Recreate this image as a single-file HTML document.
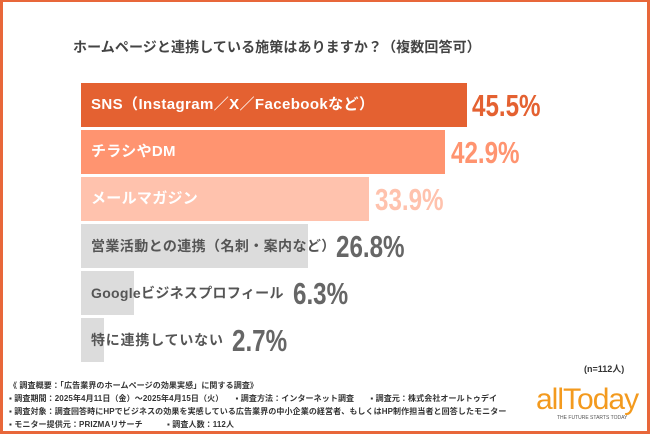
<!DOCTYPE html>
<html><head><meta charset="utf-8"><style>
*{margin:0;padding:0;box-sizing:border-box}
body{width:650px;height:434px;overflow:hidden;background:#fff;font-family:"Liberation Sans","Noto Sans CJK JP",sans-serif;}
.frame{position:absolute;left:0;top:0;width:650px;height:434px;border:3px solid #E8673A;border-top-width:2px}
.t{position:absolute;left:73px;top:37px;font-size:14px;font-weight:bold;color:#444;letter-spacing:0.1px;white-space:nowrap}
.bar{position:absolute;left:81px;height:44px}
.lb{position:absolute;left:91px;font-size:15px;font-weight:bold;white-space:nowrap;line-height:44px}
.jp{font-size:14px;letter-spacing:0.4px}
.v{position:absolute;font-size:31px;font-weight:bold;line-height:44px;transform:scaleX(0.78);transform-origin:left center;white-space:nowrap}
.f{position:absolute;left:9px;font-size:8px;color:#333;white-space:nowrap;font-weight:bold;letter-spacing:0.1px}
</style></head><body>
<div class="frame"></div>
<div class="t">ホームページと連携している施策はありますか？（複数回答可）</div>

<div class="bar" style="top:83px;width:386px;background:#E46131"></div>
<div class="lb" style="top:83px;color:#fff;letter-spacing:0.4px">SNS（Instagram／X／Facebookなど）</div>
<div class="v" style="top:84px;left:472px;color:#E46131">45.5%</div>

<div class="bar" style="top:130px;width:364px;background:#FF9470"></div>
<div class="lb" style="top:130px;color:#fff;letter-spacing:0.3px">チラシやDM</div>
<div class="v" style="top:131px;left:451px;color:#FF9470">42.9%</div>

<div class="bar" style="top:177px;width:288px;background:#FFC2AD"></div>
<div class="lb" style="top:177px;color:#fff;letter-spacing:0.3px">メールマガジン</div>
<div class="v" style="top:178px;left:375px;color:#FFC2AD">33.9%</div>

<div class="bar" style="top:224px;width:227px;background:#DCDCDC"></div>
<div class="lb jp" style="top:224px;color:#555">営業活動との連携（名刺・案内など）</div>
<div class="v" style="top:225px;left:336px;color:#666">26.8%</div>

<div class="bar" style="top:271px;width:53px;background:#DCDCDC"></div>
<div class="lb jp" style="top:271px;color:#555;letter-spacing:0.3px">Googleビジネスプロフィール</div>
<div class="v" style="top:272px;left:293px;color:#666">6.3%</div>

<div class="bar" style="top:318px;width:23px;background:#DCDCDC"></div>
<div class="lb jp" style="top:318px;color:#555;letter-spacing:0.8px">特に連携していない</div>
<div class="v" style="top:319px;left:232px;color:#666">2.7%</div>

<div style="position:absolute;left:584px;top:362px;font-size:9px;color:#333;font-weight:bold">(n=112人)</div>
<div class="f" style="top:380px">《 調査概要：「広告業界のホームページの効果実感」に関する調査》</div>
<div class="f" style="top:393px">▪ 調査期間：2025年4月11日（金）〜2025年4月15日（火）　　▪ 調査方法：インターネット調査　　▪ 調査元：株式会社オールトゥデイ</div>
<div class="f" style="top:406px">▪ 調査対象：調査回答時にHPでビジネスの効果を実感している広告業界の中小企業の経営者、もしくはHP制作担当者と回答したモニター</div>
<div class="f" style="top:419px">▪ モニター提供元：PRIZMAリサーチ　　　▪ 調査人数：112人</div>
<div style="position:absolute;left:536px;top:385px;font-size:30px;color:#F39A1E;letter-spacing:-1px;line-height:30px">allToday</div>
<div style="position:absolute;left:557px;top:415px;font-size:5px;color:#555;white-space:nowrap">THE FUTURE STARTS TODAY</div>
</body></html>
